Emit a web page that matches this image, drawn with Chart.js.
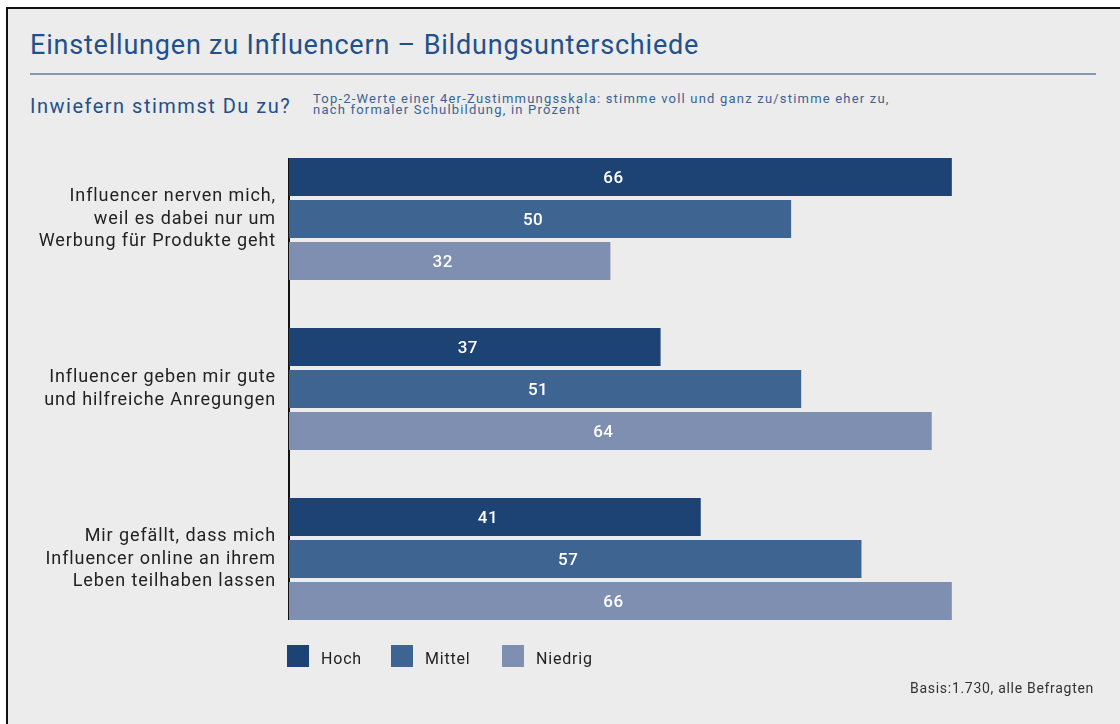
<!DOCTYPE html>
<html>
<head>
<meta charset="utf-8">
<script src="https://cdn.jsdelivr.net/npm/chart.js@4/dist/chart.umd.min.js"></script>
<style>
  html, body { margin: 0; padding: 0; background: #fff; }
  body { width: 1120px; height: 724px; position: relative; overflow: hidden; font-family: Roboto, sans-serif; }
  .frame { position: absolute; left: 6px; top: 7px; width: 1114px; height: 717px; background: #ebeceb;
           border-left: 2px solid #111; border-top: 2px solid #111; box-sizing: border-box; }
  .title { position: absolute; left: 30px; top: 29px; font-size: 27px; letter-spacing: 0.8px; color: #23508a; white-space: nowrap; }
  .rule { position: absolute; left: 30px; top: 73px; width: 1066px; height: 2px; background: #7d98b8; }
  .sub { position: absolute; left: 30px; top: 94px; font-size: 20px; letter-spacing: 1.5px; color: #23508a; white-space: nowrap; }
  .note { position: absolute; left: 313px; top: 93px; font-size: 13px; line-height: 11px; letter-spacing: 1.2px; color: #3d6391; white-space: nowrap; }
  .legend { position: absolute; left: 287px; top: 645px; font-size: 16px; letter-spacing: 0.8px; color: #222; }
  .legend span.sw { position: absolute; top: 0; width: 22px; height: 22px; }
  .legend span.tx { position: absolute; top: 4px; white-space: nowrap; }
  .basis { position: absolute; right: 26px; top: 680px; font-size: 14px; letter-spacing: 0.7px; color: #333; white-space: nowrap; }
  #c { position: absolute; left: 0; top: 0; }
</style>
</head>
<body>
<div class="frame"></div>
<div class="title">Einstellungen zu Influencern – Bildungsunterschiede</div>
<div class="rule"></div>
<div class="sub">Inwiefern stimmst Du zu?</div>
<div class="note">Top-2-Werte einer 4er-Zustimmungsskala: stimme voll und ganz zu/stimme eher zu,<br>nach formaler Schulbildung, in Prozent</div>
<canvas id="c" width="1120" height="724"></canvas>
<div class="legend" id="legend"></div>
<div class="basis">Basis:1.730, alle Befragten</div>
<script>
const categories = [
  ["Influencer nerven mich,", "weil es dabei nur um", "Werbung für Produkte geht"],
  ["Influencer geben mir gute", "und hilfreiche Anregungen"],
  ["Mir gefällt, dass mich", "Influencer online an ihrem", "Leben teilhaben lassen"]
];
const seriesNames = ["Hoch", "Mittel", "Niedrig"];
const hoch = [66, 37, 41];
const mittel = [50, 51, 57];
const niedrig = [32, 64, 66];
const colors = ["#1c4374", "#3e6592", "#7e8fb2"];

const legendEl = document.getElementById("legend");
const legendX = [0, 104, 215];
seriesNames.forEach((n, i) => {
  legendEl.innerHTML += '<span class="sw" style="left:' + legendX[i] + 'px;background:' + colors[i] + '"></span>' +
    '<span class="tx" style="left:' + (legendX[i] + 34) + 'px">' + n + '</span>';
});

// wider letter spacing for the canvas text (the original font is a wide DIN)
const spacing = {
  id: "spacing",
  beforeDraw(chart) { chart.ctx.letterSpacing = "0.9px"; }
};

// value labels inside the bars
const valueLabels = {
  id: "valueLabels",
  afterDatasetsDraw(chart) {
    const ctx = chart.ctx;
    ctx.save();
    ctx.letterSpacing = "0.5px";
    ctx.fillStyle = "#fff";
    ctx.font = "500 17px Roboto";
    ctx.textAlign = "center";
    ctx.textBaseline = "middle";
    chart.data.datasets.forEach((ds, i) => {
      chart.getDatasetMeta(i).data.forEach((bar, j) => {
        const left = chart.scales.x.getPixelForValue(0);
        ctx.fillText(ds.data[j], (left + bar.x) / 2 - 7, bar.y + 2);
      });
    });
    ctx.restore();
  }
};

// vertical axis line from first bar top to last bar bottom
const axisLine = {
  id: "axisLine",
  beforeDatasetsDraw(chart) {
    const first = chart.getDatasetMeta(0).data[0];
    const n = chart.data.datasets.length;
    const last = chart.getDatasetMeta(n - 1).data[chart.data.labels.length - 1];
    const x = chart.scales.x.getPixelForValue(0);
    const ctx = chart.ctx;
    ctx.save();
    ctx.strokeStyle = "#111";
    ctx.lineWidth = 2;
    ctx.beginPath();
    ctx.moveTo(x, first.y - first.height / 2);
    ctx.lineTo(x, last.y + last.height / 2);
    ctx.stroke();
    ctx.restore();
  }
};

new Chart(document.getElementById("c"), {
  type: "bar",
  data: {
    labels: categories,
    datasets: [
      { label: seriesNames[0], data: hoch, backgroundColor: colors[0] },
      { label: seriesNames[1], data: mittel, backgroundColor: colors[1] },
      { label: seriesNames[2], data: niedrig, backgroundColor: colors[2] }
    ]
  },
  options: {
    indexAxis: "y",
    responsive: false,
    animation: false,
    categoryPercentage: 0.741,
    barPercentage: 0.905,
    layout: { padding: { top: 134, bottom: 80, left: 0, right: 128 } },
    plugins: { legend: { display: false }, tooltip: { enabled: false } },
    scales: {
      x: { min: 0, max: 70, display: false },
      y: {
        grid: { display: false },
        border: { display: false },
        ticks: {
          color: "#222",
          padding: 5,
          font: { family: "Roboto", size: 18, lineHeight: 1.27 }
        },
        afterFit(scale) { scale.width = 289; }
      }
    }
  },
  plugins: [spacing, valueLabels, axisLine]
});
</script>
</body>
</html>
